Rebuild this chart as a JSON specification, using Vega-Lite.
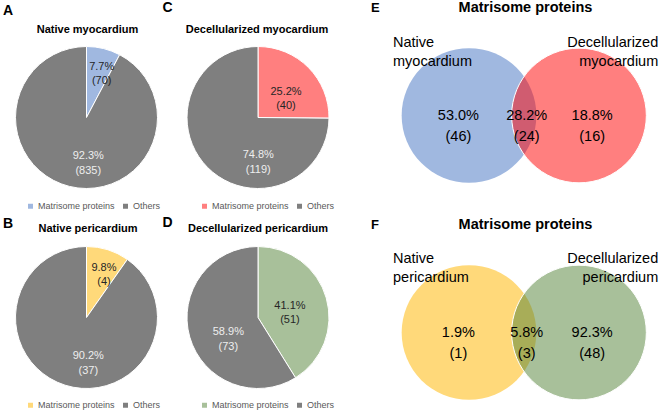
{
  "$schema": "https://vega.github.io/schema/vega-lite/v6.json",
  "padding": 0,
  "background": "white",
  "spacing": 0,
  "config": {
    "view": {"stroke": null},
    "font": "Liberation Sans",
    "text": {"font": "Liberation Sans"},
    "legend": {"symbolType": "square", "symbolSize": 25, "labelFontSize": 9, "labelColor": "#595959", "labelFont": "Liberation Sans", "columnPadding": 6, "labelOffset": 3, "symbolStrokeWidth": 0, "padding": 0}
  },
  "datasets": {
    "panels": [
      {"panel": "A", "title": "Native myocardium"},
      {"panel": "B", "title": "Native pericardium"},
      {"panel": "C", "title": "Decellularized myocardium"},
      {"panel": "D", "title": "Decellularized pericardium"},
      {"panel": "E", "title": "Matrisome proteins"},
      {"panel": "F", "title": "Matrisome proteins"}
    ],
    "pieA": [{"group": "Matrisome proteins", "n": 70, "label": "7.7%\n(70)"}, {"group": "Others", "n": 835, "label": "92.3%\n(835)"}],
    "pieB": [{"group": "Matrisome proteins", "n": 4, "label": "9.8%\n(4)"}, {"group": "Others", "n": 37, "label": "90.2%\n(37)"}],
    "pieC": [{"group": "Matrisome proteins", "n": 40, "label": "25.2%\n(40)"}, {"group": "Others", "n": 119, "label": "74.8%\n(119)"}],
    "pieD": [{"group": "Matrisome proteins", "n": 51, "label": "41.1%\n(51)"}, {"group": "Others", "n": 73, "label": "58.9%\n(73)"}],
    "vennE_sets": [{"set": "Native myocardium", "n": 70}, {"set": "Decellularized myocardium", "n": 40}],
    "vennE_regions": [{"region": "Native only", "pct": 53.0, "n": 46, "label": "53.0%\n(46)"}, {"region": "Both", "pct": 28.2, "n": 24, "label": "28.2%\n(24)"}, {"region": "Decellularized only", "pct": 18.8, "n": 16, "label": "18.8%\n(16)"}],
    "vennF_sets": [{"set": "Native pericardium", "n": 4}, {"set": "Decellularized pericardium", "n": 51}],
    "vennF_regions": [{"region": "Native only", "pct": 1.9, "n": 1, "label": "1.9%\n(1)"}, {"region": "Both", "pct": 5.8, "n": 3, "label": "5.8%\n(3)"}, {"region": "Decellularized only", "pct": 92.3, "n": 48, "label": "92.3%\n(48)"}]
  },
  "resolve": {"scale": {"color": "independent"}},
  "hconcat": [
    {
      "spacing": 0,
      "resolve": {"scale": {"color": "independent"}},
      "vconcat": [
        {
          "width": 162, "height": 212,
          "data": {"name": "pieA"},
          "layer": [
            {"mark": {"type": "arc", "outerRadius": 71, "stroke": "#FFFFFF", "strokeWidth": 1},
             "encoding": {
               "theta": {"field": "n", "type": "quantitative"},
               "color": {"field": "group", "type": "nominal", "scale": {"domain": ["Matrisome proteins", "Others"], "range": ["#A0B8E0", "#7F7F7F"]}, "legend": {"title": null, "orient": "none", "legendX": 26, "legendY": 201.5, "direction": "horizontal"}},
               "x": {"datum": 0, "type": "quantitative", "scale": {"domain": [-1.218, 1.063], "nice": false, "zero": false}, "axis": null},
               "y": {"datum": 0, "type": "quantitative", "scale": {"domain": [-1.331, 1.655], "nice": false, "zero": false}, "axis": null}
             }},
            {"transform": [{"filter": "datum.group === 'Matrisome proteins'"}],
             "mark": {"type": "text", "lineBreak": "\n", "fontSize": 11, "lineHeight": 14, "color": "#262626", "baseline": "middle"},
             "encoding": {
               "x": {"datum": 0.214, "type": "quantitative", "scale": {"domain": [-1.218, 1.063], "nice": false, "zero": false}, "axis": null},
               "y": {"datum": 0.718, "type": "quantitative", "scale": {"domain": [-1.331, 1.655], "nice": false, "zero": false}, "axis": null},
               "text": {"field": "label"}
             }},
            {"transform": [{"filter": "datum.group === 'Others'"}],
             "mark": {"type": "text", "lineBreak": "\n", "fontSize": 11, "lineHeight": 15, "color": "#EEEEEE", "baseline": "middle"},
             "encoding": {
               "x": {"datum": 0.025, "type": "quantitative", "scale": {"domain": [-1.218, 1.063], "nice": false, "zero": false}, "axis": null},
               "y": {"datum": -0.542, "type": "quantitative", "scale": {"domain": [-1.331, 1.655], "nice": false, "zero": false}, "axis": null},
               "text": {"field": "label"}
             }},
            {"data": {"name": "panels"}, "transform": [{"filter": "datum.panel === 'A'"}],
             "mark": {"type": "text", "fontSize": 14, "fontWeight": "bold", "color": "#000000", "align": "left", "baseline": "middle"},
             "encoding": {
               "x": {"datum": -1.176, "type": "quantitative", "scale": {"domain": [-1.218, 1.063], "nice": false, "zero": false}, "axis": null},
               "y": {"datum": 1.507, "type": "quantitative", "scale": {"domain": [-1.331, 1.655], "nice": false, "zero": false}, "axis": null},
               "text": {"field": "panel"}
             }},
            {"data": {"name": "panels"}, "transform": [{"filter": "datum.panel === 'A'"}],
             "mark": {"type": "text", "fontSize": 11, "fontWeight": "bold", "color": "#000000", "align": "center", "baseline": "middle"},
             "encoding": {
               "x": {"datum": 0.014, "type": "quantitative", "scale": {"domain": [-1.218, 1.063], "nice": false, "zero": false}, "axis": null},
               "y": {"datum": 1.232, "type": "quantitative", "scale": {"domain": [-1.331, 1.655], "nice": false, "zero": false}, "axis": null},
               "text": {"field": "title"}
             }}
          ]
        },
        {
          "width": 162, "height": 201,
          "data": {"name": "pieB"},
          "layer": [
            {"mark": {"type": "arc", "outerRadius": 71, "stroke": "#FFFFFF", "strokeWidth": 1},
             "encoding": {
               "theta": {"field": "n", "type": "quantitative"},
               "color": {"field": "group", "type": "nominal", "scale": {"domain": ["Matrisome proteins", "Others"], "range": ["#FFD97A", "#7F7F7F"]}, "legend": {"title": null, "orient": "none", "legendX": 26, "legendY": 188.5, "direction": "horizontal"}},
               "x": {"datum": 0, "type": "quantitative", "scale": {"domain": [-1.218, 1.063], "nice": false, "zero": false}, "axis": null},
               "y": {"datum": 0, "type": "quantitative", "scale": {"domain": [-1.345, 1.486], "nice": false, "zero": false}, "axis": null}
             }},
            {"transform": [{"filter": "datum.group === 'Matrisome proteins'"}],
             "mark": {"type": "text", "lineBreak": "\n", "fontSize": 11, "lineHeight": 14, "color": "#262626", "baseline": "middle"},
             "encoding": {
               "x": {"datum": 0.246, "type": "quantitative", "scale": {"domain": [-1.218, 1.063], "nice": false, "zero": false}, "axis": null},
               "y": {"datum": 0.693, "type": "quantitative", "scale": {"domain": [-1.345, 1.486], "nice": false, "zero": false}, "axis": null},
               "text": {"field": "label"}
             }},
            {"transform": [{"filter": "datum.group === 'Others'"}],
             "mark": {"type": "text", "lineBreak": "\n", "fontSize": 11, "lineHeight": 15, "color": "#EEEEEE", "baseline": "middle"},
             "encoding": {
               "x": {"datum": 0.025, "type": "quantitative", "scale": {"domain": [-1.218, 1.063], "nice": false, "zero": false}, "axis": null},
               "y": {"datum": -0.542, "type": "quantitative", "scale": {"domain": [-1.345, 1.486], "nice": false, "zero": false}, "axis": null},
               "text": {"field": "label"}
             }},
            {"data": {"name": "panels"}, "transform": [{"filter": "datum.panel === 'B'"}],
             "mark": {"type": "text", "fontSize": 14, "fontWeight": "bold", "color": "#000000", "align": "left", "baseline": "middle"},
             "encoding": {
               "x": {"datum": -1.176, "type": "quantitative", "scale": {"domain": [-1.218, 1.063], "nice": false, "zero": false}, "axis": null},
               "y": {"datum": 1.324, "type": "quantitative", "scale": {"domain": [-1.345, 1.486], "nice": false, "zero": false}, "axis": null},
               "text": {"field": "panel"}
             }},
            {"data": {"name": "panels"}, "transform": [{"filter": "datum.panel === 'B'"}],
             "mark": {"type": "text", "fontSize": 11, "fontWeight": "bold", "color": "#000000", "align": "center", "baseline": "middle"},
             "encoding": {
               "x": {"datum": 0.021, "type": "quantitative", "scale": {"domain": [-1.218, 1.063], "nice": false, "zero": false}, "axis": null},
               "y": {"datum": 1.246, "type": "quantitative", "scale": {"domain": [-1.345, 1.486], "nice": false, "zero": false}, "axis": null},
               "text": {"field": "title"}
             }}
          ]
        }
      ]
    },
    {
      "spacing": 0,
      "resolve": {"scale": {"color": "independent"}},
      "vconcat": [
        {
          "width": 182, "height": 212,
          "data": {"name": "pieC"},
          "layer": [
            {"mark": {"type": "arc", "outerRadius": 71, "stroke": "#FFFFFF", "strokeWidth": 1},
             "encoding": {
               "theta": {"field": "n", "type": "quantitative"},
               "color": {"field": "group", "type": "nominal", "scale": {"domain": ["Matrisome proteins", "Others"], "range": ["#FF7F7F", "#7F7F7F"]}, "legend": {"title": null, "orient": "none", "legendX": 38, "legendY": 201.5, "direction": "horizontal"}},
               "x": {"datum": 0, "type": "quantitative", "scale": {"domain": [-1.352, 1.211], "nice": false, "zero": false}, "axis": null},
               "y": {"datum": 0, "type": "quantitative", "scale": {"domain": [-1.331, 1.655], "nice": false, "zero": false}, "axis": null}
             }},
            {"transform": [{"filter": "datum.group === 'Matrisome proteins'"}],
             "mark": {"type": "text", "lineBreak": "\n", "fontSize": 11, "lineHeight": 14, "color": "#262626", "baseline": "middle"},
             "encoding": {
               "x": {"datum": 0.394, "type": "quantitative", "scale": {"domain": [-1.352, 1.211], "nice": false, "zero": false}, "axis": null},
               "y": {"datum": 0.359, "type": "quantitative", "scale": {"domain": [-1.331, 1.655], "nice": false, "zero": false}, "axis": null},
               "text": {"field": "label"}
             }},
            {"transform": [{"filter": "datum.group === 'Others'"}],
             "mark": {"type": "text", "lineBreak": "\n", "fontSize": 11, "lineHeight": 15, "color": "#EEEEEE", "baseline": "middle"},
             "encoding": {
               "x": {"datum": 0.004, "type": "quantitative", "scale": {"domain": [-1.352, 1.211], "nice": false, "zero": false}, "axis": null},
               "y": {"datum": -0.535, "type": "quantitative", "scale": {"domain": [-1.331, 1.655], "nice": false, "zero": false}, "axis": null},
               "text": {"field": "label"}
             }},
            {"data": {"name": "panels"}, "transform": [{"filter": "datum.panel === 'C'"}],
             "mark": {"type": "text", "fontSize": 14, "fontWeight": "bold", "color": "#000000", "align": "left", "baseline": "middle"},
             "encoding": {
               "x": {"datum": -1.345, "type": "quantitative", "scale": {"domain": [-1.352, 1.211], "nice": false, "zero": false}, "axis": null},
               "y": {"datum": 1.549, "type": "quantitative", "scale": {"domain": [-1.331, 1.655], "nice": false, "zero": false}, "axis": null},
               "text": {"field": "panel"}
             }},
            {"data": {"name": "panels"}, "transform": [{"filter": "datum.panel === 'C'"}],
             "mark": {"type": "text", "fontSize": 11, "fontWeight": "bold", "color": "#000000", "align": "center", "baseline": "middle"},
             "encoding": {
               "x": {"datum": -0.014, "type": "quantitative", "scale": {"domain": [-1.352, 1.211], "nice": false, "zero": false}, "axis": null},
               "y": {"datum": 1.237, "type": "quantitative", "scale": {"domain": [-1.331, 1.655], "nice": false, "zero": false}, "axis": null},
               "text": {"field": "title"}
             }}
          ]
        },
        {
          "width": 182, "height": 201,
          "data": {"name": "pieD"},
          "layer": [
            {"mark": {"type": "arc", "outerRadius": 71, "stroke": "#FFFFFF", "strokeWidth": 1},
             "encoding": {
               "theta": {"field": "n", "type": "quantitative"},
               "color": {"field": "group", "type": "nominal", "scale": {"domain": ["Matrisome proteins", "Others"], "range": ["#A8C09A", "#7F7F7F"]}, "legend": {"title": null, "orient": "none", "legendX": 38, "legendY": 188.5, "direction": "horizontal"}},
               "x": {"datum": 0, "type": "quantitative", "scale": {"domain": [-1.352, 1.211], "nice": false, "zero": false}, "axis": null},
               "y": {"datum": 0, "type": "quantitative", "scale": {"domain": [-1.345, 1.486], "nice": false, "zero": false}, "axis": null}
             }},
            {"transform": [{"filter": "datum.group === 'Matrisome proteins'"}],
             "mark": {"type": "text", "lineBreak": "\n", "fontSize": 11, "lineHeight": 14, "color": "#262626", "baseline": "middle"},
             "encoding": {
               "x": {"datum": 0.45, "type": "quantitative", "scale": {"domain": [-1.352, 1.211], "nice": false, "zero": false}, "axis": null},
               "y": {"datum": 0.158, "type": "quantitative", "scale": {"domain": [-1.345, 1.486], "nice": false, "zero": false}, "axis": null},
               "text": {"field": "label"}
             }},
            {"transform": [{"filter": "datum.group === 'Others'"}],
             "mark": {"type": "text", "lineBreak": "\n", "fontSize": 11, "lineHeight": 15, "color": "#EEEEEE", "baseline": "middle"},
             "encoding": {
               "x": {"datum": -0.418, "type": "quantitative", "scale": {"domain": [-1.352, 1.211], "nice": false, "zero": false}, "axis": null},
               "y": {"datum": -0.207, "type": "quantitative", "scale": {"domain": [-1.345, 1.486], "nice": false, "zero": false}, "axis": null},
               "text": {"field": "label"}
             }},
            {"data": {"name": "panels"}, "transform": [{"filter": "datum.panel === 'D'"}],
             "mark": {"type": "text", "fontSize": 14, "fontWeight": "bold", "color": "#000000", "align": "left", "baseline": "middle"},
             "encoding": {
               "x": {"datum": -1.345, "type": "quantitative", "scale": {"domain": [-1.352, 1.211], "nice": false, "zero": false}, "axis": null},
               "y": {"datum": 1.327, "type": "quantitative", "scale": {"domain": [-1.345, 1.486], "nice": false, "zero": false}, "axis": null},
               "text": {"field": "panel"}
             }},
            {"data": {"name": "panels"}, "transform": [{"filter": "datum.panel === 'D'"}],
             "mark": {"type": "text", "fontSize": 11, "fontWeight": "bold", "color": "#000000", "align": "center", "baseline": "middle"},
             "encoding": {
               "x": {"datum": 0, "type": "quantitative", "scale": {"domain": [-1.352, 1.211], "nice": false, "zero": false}, "axis": null},
               "y": {"datum": 1.242, "type": "quantitative", "scale": {"domain": [-1.345, 1.486], "nice": false, "zero": false}, "axis": null},
               "text": {"field": "title"}
             }}
          ]
        }
      ]
    },
    {
      "spacing": 0,
      "vconcat": [
        {
          "width": 316, "height": 205,
          "layer": [
            {"data": {"name": "vennE_sets"}, "transform": [{"filter": "datum.set === 'Native myocardium'"}],
             "mark": {"type": "point", "shape": "circle", "filled": true, "size": 18146, "fill": "#A0B8E0", "opacity": 1, "strokeWidth": 0},
             "encoding": {
               "x": {"datum": 0, "type": "quantitative", "scale": {"domain": [-1.645, 2.513], "nice": false, "zero": false}, "axis": null},
               "y": {"datum": 0, "type": "quantitative", "scale": {"domain": [-1.178, 1.520], "nice": false, "zero": false}, "axis": null}
             }},
            {"data": {"name": "vennE_sets"}, "transform": [{"filter": "datum.set === 'Decellularized myocardium'"}],
             "mark": {"type": "point", "shape": "circle", "filled": true, "size": 18146, "fill": "#FF0000", "fillOpacity": 0.5, "opacity": 1, "stroke": "#FFFFFF", "strokeWidth": 1, "strokeOpacity": 1},
             "encoding": {
               "x": {"datum": 1.447, "type": "quantitative", "scale": {"domain": [-1.645, 2.513], "nice": false, "zero": false}, "axis": null},
               "y": {"datum": 0, "type": "quantitative", "scale": {"domain": [-1.178, 1.520], "nice": false, "zero": false}, "axis": null}
             }},
            {"data": {"name": "vennE_sets"}, "transform": [{"filter": "datum.set === 'Native myocardium'"}],
             "mark": {"type": "text", "lineBreak": " ", "fontSize": 14.5, "lineHeight": 19, "color": "#000000", "align": "left", "baseline": "middle"},
             "encoding": {
               "x": {"datum": -1.0, "type": "quantitative", "scale": {"domain": [-1.645, 2.513], "nice": false, "zero": false}, "axis": null},
               "y": {"datum": 0.96, "type": "quantitative", "scale": {"domain": [-1.178, 1.520], "nice": false, "zero": false}, "axis": null},
               "text": {"field": "set"}
             }},
            {"data": {"name": "vennE_sets"}, "transform": [{"filter": "datum.set === 'Decellularized myocardium'"}],
             "mark": {"type": "text", "lineBreak": " ", "fontSize": 14.5, "lineHeight": 19, "color": "#000000", "align": "right", "baseline": "middle"},
             "encoding": {
               "x": {"datum": 2.49, "type": "quantitative", "scale": {"domain": [-1.645, 2.513], "nice": false, "zero": false}, "axis": null},
               "y": {"datum": 0.96, "type": "quantitative", "scale": {"domain": [-1.178, 1.520], "nice": false, "zero": false}, "axis": null},
               "text": {"field": "set"}
             }},
            {"data": {"name": "vennE_regions"}, "transform": [{"filter": "datum.region === 'Native only'"}],
             "mark": {"type": "text", "lineBreak": "\n", "fontSize": 14.5, "lineHeight": 21, "color": "#000000", "baseline": "middle"},
             "encoding": {
               "x": {"datum": -0.14, "type": "quantitative", "scale": {"domain": [-1.645, 2.513], "nice": false, "zero": false}, "axis": null},
               "y": {"datum": -0.01, "type": "quantitative", "scale": {"domain": [-1.178, 1.520], "nice": false, "zero": false}, "axis": null},
               "text": {"field": "label"}
             }},
            {"data": {"name": "vennE_regions"}, "transform": [{"filter": "datum.region === 'Both'"}],
             "mark": {"type": "text", "lineBreak": "\n", "fontSize": 14.5, "lineHeight": 21, "color": "#000000", "baseline": "middle"},
             "encoding": {
               "x": {"datum": 0.759, "type": "quantitative", "scale": {"domain": [-1.645, 2.513], "nice": false, "zero": false}, "axis": null},
               "y": {"datum": -0.01, "type": "quantitative", "scale": {"domain": [-1.178, 1.520], "nice": false, "zero": false}, "axis": null},
               "text": {"field": "label"}
             }},
            {"data": {"name": "vennE_regions"}, "transform": [{"filter": "datum.region === 'Decellularized only'"}],
             "mark": {"type": "text", "lineBreak": "\n", "fontSize": 14.5, "lineHeight": 21, "color": "#000000", "baseline": "middle"},
             "encoding": {
               "x": {"datum": 1.62, "type": "quantitative", "scale": {"domain": [-1.645, 2.513], "nice": false, "zero": false}, "axis": null},
               "y": {"datum": -0.01, "type": "quantitative", "scale": {"domain": [-1.178, 1.520], "nice": false, "zero": false}, "axis": null},
               "text": {"field": "label"}
             }},
            {"data": {"name": "panels"}, "transform": [{"filter": "datum.panel === 'E'"}],
             "mark": {"type": "text", "fontSize": 13, "fontWeight": "bold", "color": "#000000", "align": "left", "baseline": "middle"},
             "encoding": {
               "x": {"datum": -1.289, "type": "quantitative", "scale": {"domain": [-1.645, 2.513], "nice": false, "zero": false}, "axis": null},
               "y": {"datum": 1.42, "type": "quantitative", "scale": {"domain": [-1.178, 1.520], "nice": false, "zero": false}, "axis": null},
               "text": {"field": "panel"}
             }},
            {"data": {"name": "panels"}, "transform": [{"filter": "datum.panel === 'E'"}],
             "mark": {"type": "text", "fontSize": 14.5, "fontWeight": "bold", "color": "#000000", "align": "center", "baseline": "middle"},
             "encoding": {
               "x": {"datum": 0.743, "type": "quantitative", "scale": {"domain": [-1.645, 2.513], "nice": false, "zero": false}, "axis": null},
               "y": {"datum": 1.41, "type": "quantitative", "scale": {"domain": [-1.178, 1.520], "nice": false, "zero": false}, "axis": null},
               "text": {"field": "title"}
             }}
          ]
        },
        {
          "width": 316, "height": 208,
          "layer": [
            {"data": {"name": "vennF_sets"}, "transform": [{"filter": "datum.set === 'Native pericardium'"}],
             "mark": {"type": "point", "shape": "circle", "filled": true, "size": 18146, "fill": "#FFD97A", "opacity": 1, "strokeWidth": 0},
             "encoding": {
               "x": {"datum": 0, "type": "quantitative", "scale": {"domain": [-1.645, 2.513], "nice": false, "zero": false}, "axis": null},
               "y": {"datum": 0, "type": "quantitative", "scale": {"domain": [-1.059, 1.678], "nice": false, "zero": false}, "axis": null}
             }},
            {"data": {"name": "vennF_sets"}, "transform": [{"filter": "datum.set === 'Decellularized pericardium'"}],
             "mark": {"type": "point", "shape": "circle", "filled": true, "size": 18146, "fill": "#518135", "fillOpacity": 0.5, "opacity": 1, "stroke": "#FFFFFF", "strokeWidth": 1, "strokeOpacity": 1},
             "encoding": {
               "x": {"datum": 1.447, "type": "quantitative", "scale": {"domain": [-1.645, 2.513], "nice": false, "zero": false}, "axis": null},
               "y": {"datum": 0, "type": "quantitative", "scale": {"domain": [-1.059, 1.678], "nice": false, "zero": false}, "axis": null}
             }},
            {"data": {"name": "vennF_sets"}, "transform": [{"filter": "datum.set === 'Native pericardium'"}],
             "mark": {"type": "text", "lineBreak": " ", "fontSize": 14.5, "lineHeight": 19, "color": "#000000", "align": "left", "baseline": "middle"},
             "encoding": {
               "x": {"datum": -1.0, "type": "quantitative", "scale": {"domain": [-1.645, 2.513], "nice": false, "zero": false}, "axis": null},
               "y": {"datum": 0.965, "type": "quantitative", "scale": {"domain": [-1.059, 1.678], "nice": false, "zero": false}, "axis": null},
               "text": {"field": "set"}
             }},
            {"data": {"name": "vennF_sets"}, "transform": [{"filter": "datum.set === 'Decellularized pericardium'"}],
             "mark": {"type": "text", "lineBreak": " ", "fontSize": 14.5, "lineHeight": 19, "color": "#000000", "align": "right", "baseline": "middle"},
             "encoding": {
               "x": {"datum": 2.49, "type": "quantitative", "scale": {"domain": [-1.645, 2.513], "nice": false, "zero": false}, "axis": null},
               "y": {"datum": 0.965, "type": "quantitative", "scale": {"domain": [-1.059, 1.678], "nice": false, "zero": false}, "axis": null},
               "text": {"field": "set"}
             }},
            {"data": {"name": "vennF_regions"}, "transform": [{"filter": "datum.region === 'Native only'"}],
             "mark": {"type": "text", "lineBreak": "\n", "fontSize": 14.5, "lineHeight": 21, "color": "#000000", "baseline": "middle"},
             "encoding": {
               "x": {"datum": -0.14, "type": "quantitative", "scale": {"domain": [-1.645, 2.513], "nice": false, "zero": false}, "axis": null},
               "y": {"datum": -0.01, "type": "quantitative", "scale": {"domain": [-1.059, 1.678], "nice": false, "zero": false}, "axis": null},
               "text": {"field": "label"}
             }},
            {"data": {"name": "vennF_regions"}, "transform": [{"filter": "datum.region === 'Both'"}],
             "mark": {"type": "text", "lineBreak": "\n", "fontSize": 14.5, "lineHeight": 21, "color": "#000000", "baseline": "middle"},
             "encoding": {
               "x": {"datum": 0.759, "type": "quantitative", "scale": {"domain": [-1.645, 2.513], "nice": false, "zero": false}, "axis": null},
               "y": {"datum": -0.01, "type": "quantitative", "scale": {"domain": [-1.059, 1.678], "nice": false, "zero": false}, "axis": null},
               "text": {"field": "label"}
             }},
            {"data": {"name": "vennF_regions"}, "transform": [{"filter": "datum.region === 'Decellularized only'"}],
             "mark": {"type": "text", "lineBreak": "\n", "fontSize": 14.5, "lineHeight": 21, "color": "#000000", "baseline": "middle"},
             "encoding": {
               "x": {"datum": 1.62, "type": "quantitative", "scale": {"domain": [-1.645, 2.513], "nice": false, "zero": false}, "axis": null},
               "y": {"datum": -0.01, "type": "quantitative", "scale": {"domain": [-1.059, 1.678], "nice": false, "zero": false}, "axis": null},
               "text": {"field": "label"}
             }},
            {"data": {"name": "panels"}, "transform": [{"filter": "datum.panel === 'F'"}],
             "mark": {"type": "text", "fontSize": 13, "fontWeight": "bold", "color": "#000000", "align": "left", "baseline": "middle"},
             "encoding": {
               "x": {"datum": -1.289, "type": "quantitative", "scale": {"domain": [-1.645, 2.513], "nice": false, "zero": false}, "axis": null},
               "y": {"datum": 1.42, "type": "quantitative", "scale": {"domain": [-1.059, 1.678], "nice": false, "zero": false}, "axis": null},
               "text": {"field": "panel"}
             }},
            {"data": {"name": "panels"}, "transform": [{"filter": "datum.panel === 'F'"}],
             "mark": {"type": "text", "fontSize": 14.5, "fontWeight": "bold", "color": "#000000", "align": "center", "baseline": "middle"},
             "encoding": {
               "x": {"datum": 0.743, "type": "quantitative", "scale": {"domain": [-1.645, 2.513], "nice": false, "zero": false}, "axis": null},
               "y": {"datum": 1.41, "type": "quantitative", "scale": {"domain": [-1.059, 1.678], "nice": false, "zero": false}, "axis": null},
               "text": {"field": "title"}
             }}
          ]
        }
      ]
    }
  ]
}
